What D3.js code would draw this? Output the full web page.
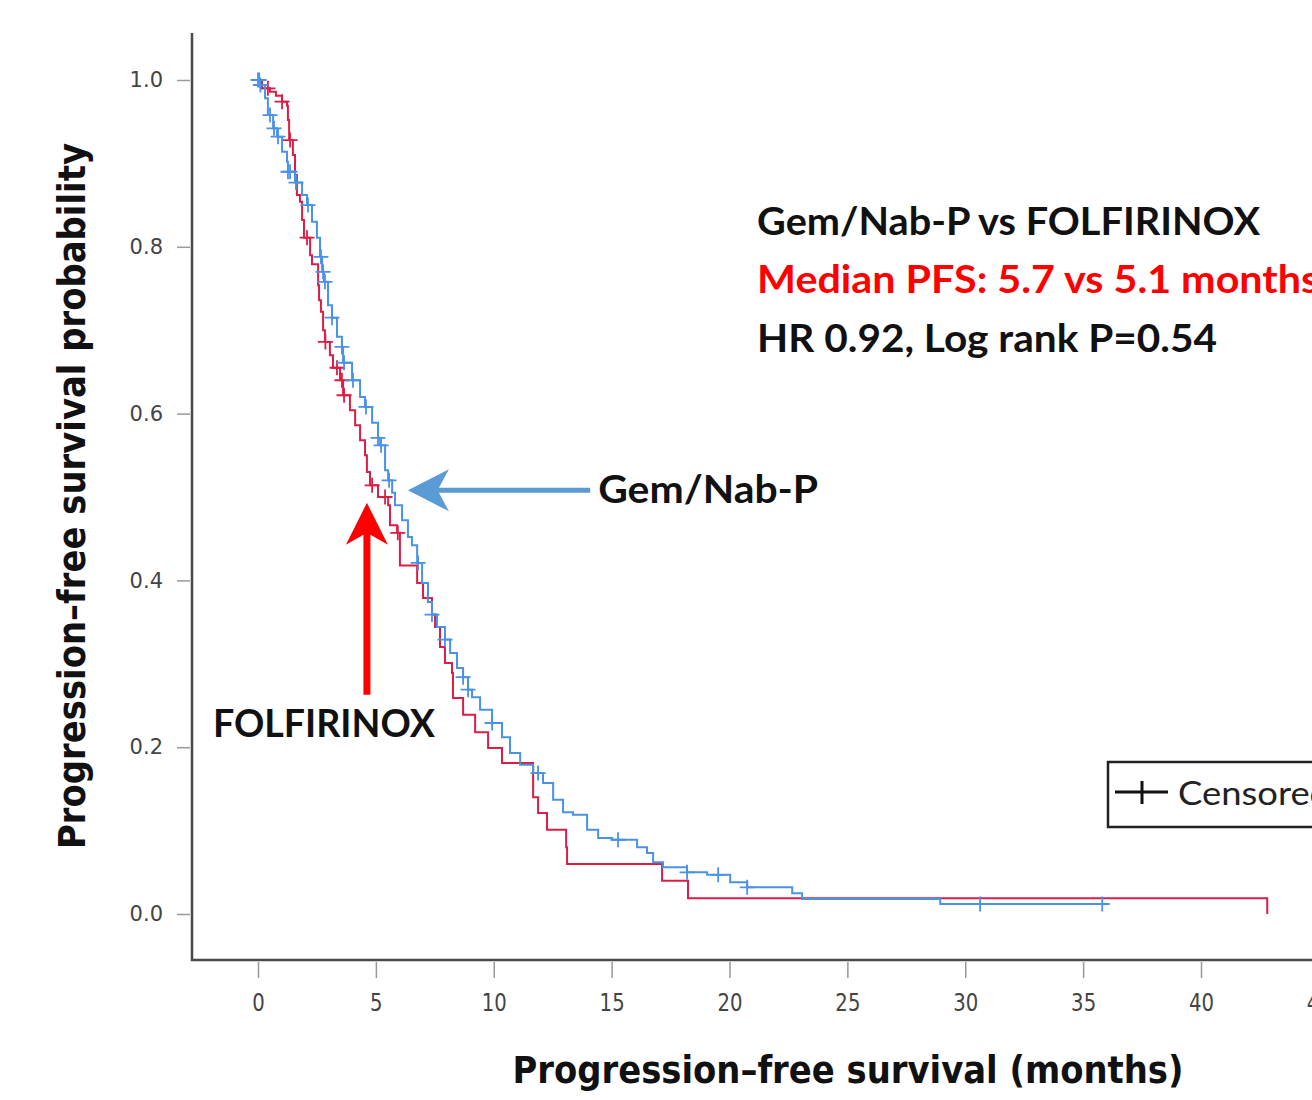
<!DOCTYPE html>
<html>
<head>
<meta charset="utf-8">
<script src="https://cdn.jsdelivr.net/npm/d3@7/dist/d3.min.js"></script>
<style>
  html, body { margin: 0; padding: 0; overflow: hidden; background: #fff; }
</style>
</head>
<body>
<div id="main"></div>
<script>
const xTicks = [0, 5, 10, 15, 20, 25, 30, 35, 40, 45];
const yTicks = [0, 0.2, 0.4, 0.6, 0.8, 1.0];

// FOLFIRINOX (red): step times (months) and survival after each step
const folfTime = [0, 0.17, 0.51, 0.76, 1.02, 1.23, 1.27, 1.32, 1.48, 1.57, 1.65, 1.78, 1.87, 1.95,
    2.21, 2.29, 2.55, 2.59, 2.67, 2.76, 2.84, 3.05, 3.18, 3.48, 3.61, 3.90, 4.12, 4.33, 4.54, 4.62,
    4.75, 5.09, 5.52, 5.60, 5.90, 6.02, 6.75, 7.00, 7.38, 7.51, 7.72, 7.93, 8.23, 8.27, 8.70, 9.21,
    9.76, 10.35, 11.67, 11.88, 12.26, 13.07, 13.11, 17.14, 18.24, 42.81];
const folfSurv = [1.000, 0.990, 0.986, 0.981, 0.974, 0.969, 0.952, 0.928, 0.910, 0.886, 0.862, 0.854, 0.832, 0.811,
    0.790, 0.779, 0.754, 0.736, 0.722, 0.700, 0.686, 0.670, 0.655, 0.640, 0.622, 0.604, 0.586, 0.568, 0.550, 0.530,
    0.514, 0.500, 0.490, 0.466, 0.457, 0.418, 0.397, 0.379, 0.359, 0.344, 0.320, 0.301, 0.289, 0.259, 0.239, 0.218,
    0.199, 0.181, 0.140, 0.121, 0.101, 0.080, 0.060, 0.040, 0.019, 0.000];
const folfCensor = [0.42, 1.02, 1.36, 2.08, 2.86, 3.35, 3.56, 3.65, 4.84, 5.39, 5.93];

// Gem/Nab-P (blue)
const gemTime = [0, 0.08, 0.30, 0.42, 0.64, 0.81, 1.02, 1.23, 1.27, 1.57, 1.87, 2.08, 2.29, 2.50, 2.63,
    2.72, 2.80, 2.97, 3.14, 3.35, 3.56, 3.61, 3.99, 4.33, 4.54, 4.84, 5.09, 5.18, 5.39, 5.52, 5.69, 5.81,
    6.11, 6.36, 6.53, 6.75, 6.96, 7.21, 7.38, 7.59, 7.93, 8.15, 8.44, 8.70, 8.91, 9.08, 9.42, 9.93, 10.35,
    10.69, 11.12, 11.67, 12.09, 12.52, 12.94, 13.36, 13.96, 14.43, 15.02, 16.08, 16.50, 16.76, 17.18,
    18.20, 19.05, 20.03, 20.75, 22.66, 23.08, 28.94];
const gemSurv = [1.000, 0.994, 0.978, 0.958, 0.942, 0.932, 0.914, 0.902, 0.890, 0.877, 0.862, 0.850, 0.830, 0.811, 0.788,
    0.770, 0.758, 0.730, 0.715, 0.692, 0.680, 0.661, 0.640, 0.620, 0.608, 0.589, 0.571, 0.562, 0.532, 0.520, 0.505, 0.490,
    0.472, 0.452, 0.442, 0.421, 0.397, 0.374, 0.359, 0.344, 0.329, 0.313, 0.295, 0.284, 0.269, 0.260, 0.245, 0.229, 0.212,
    0.193, 0.179, 0.169, 0.157, 0.137, 0.122, 0.119, 0.101, 0.091, 0.089, 0.080, 0.073, 0.062, 0.056,
    0.050, 0.047, 0.038, 0.032, 0.025, 0.018, 0.012];
const gemCensor = [0.0, 0.05, 0.10, 0.51, 0.68, 0.85, 1.27, 1.36, 1.61, 2.12, 2.67, 2.76, 2.84, 3.14, 3.56, 3.65,
    4.03, 4.58, 5.09, 5.22, 5.56, 6.79, 7.38, 7.93, 8.70, 8.91, 9.93, 11.88, 15.27, 18.20, 19.52, 20.75, 30.63, 35.81];

class KmChart {
    constructor({ width = 1312, height = 1100 } = {}) {
        this.w = width;
        this.h = height;
        this.svg = null;
        this.x = d3.scaleLinear().domain([0, 40]).range([258, 1201]);
        this.y = d3.scaleLinear().domain([0, 1]).range([914, 80]);
    }

    createSvg(selector) {
        this.svg = d3.select(selector)
            .append("svg")
            .attr("width", this.w)
            .attr("height", this.h)
            .style("display", "block");
    }

    survAt(times, surv, t) {
        const i = Math.max(0, d3.bisectRight(times, t) - 1);
        return surv[i];
    }

    drawCurve(times, surv, censor, color) {
        const pts = times.map((t, i) => [t, surv[i]]);
        const end = d3.max(censor);
        if (end > times[times.length - 1]) pts.push([end, surv[surv.length - 1]]);

        const line = d3.line()
            .x(d => this.x(d[0]))
            .y(d => this.y(d[1]))
            .curve(d3.curveStepAfter);

        this.svg.append("path")
            .datum(pts)
            .attr("d", line)
            .attr("fill", "none")
            .attr("stroke", color)
            .attr("stroke-width", 2);

        this.svg.append("g")
            .selectAll("path")
            .data(censor)
            .join("path")
            .attr("d", t => {
                const cx = this.x(t), cy = this.y(this.survAt(times, surv, t));
                return `M${cx - 7.5},${cy}h15M${cx},${cy - 7.5}v15`;
            })
            .attr("stroke", color)
            .attr("stroke-width", 1.8);
    }

    drawAxes() {
        // Eixo Y
        const gy = this.svg.append("g")
            .attr("transform", "translate(190,0)")
            .call(d3.axisLeft(this.y).tickValues(yTicks).tickFormat(d3.format(".1f")).tickSize(13).tickPadding(14));
        gy.select(".domain").remove();
        gy.selectAll("line").attr("stroke", "#999").attr("stroke-width", 1.5);
        gy.selectAll("text")
            .style("font-family", "'DejaVu Sans', sans-serif")
            .style("font-size", "21px")
            .attr("fill", "#444");

        // Eixo X
        const gx = this.svg.append("g")
            .attr("transform", "translate(0,962)")
            .call(d3.axisBottom(this.x).tickValues(xTicks).tickFormat(d3.format("d")).tickSize(16).tickPadding(16));
        gx.select(".domain").remove();
        gx.selectAll("line").attr("stroke", "#999").attr("stroke-width", 1.5);
        gx.selectAll("text")
            .style("font-family", "'DejaVu Sans', sans-serif")
            .style("font-size", "24px")
            .attr("fill", "#444")
            .attr("transform", "scale(0.82,1)");

        // frame lines
        this.svg.append("path")
            .attr("d", "M192,33V960H1320")
            .attr("fill", "none")
            .attr("stroke", "#4a4a4a")
            .attr("stroke-width", 2.5);

        this.svg.append("text")
            .attr("x", 848)
            .attr("y", 1083)
            .attr("text-anchor", "middle")
            .attr("textLength", 671)
            .attr("lengthAdjust", "spacingAndGlyphs")
            .style("font-family", "'DejaVu Sans', sans-serif")
            .style("font-weight", "bold")
            .style("font-size", "37px")
            .attr("fill", "#111")
            .text("Progression–free survival (months)");

        this.svg.append("text")
            .attr("transform", "translate(85,496) rotate(-90)")
            .attr("text-anchor", "middle")
            .attr("textLength", 706)
            .attr("lengthAdjust", "spacingAndGlyphs")
            .style("font-family", "'DejaVu Sans', sans-serif")
            .style("font-weight", "bold")
            .style("font-size", "37px")
            .attr("fill", "#111")
            .text("Progression–free survival probability");
    }

    drawNotes() {
        const x = this.x, y = this.y;
        const note = (tx, ty, txt, len, color) => this.svg.append("text")
            .attr("x", x(tx))
            .attr("y", y(ty))
            .attr("textLength", len)
            .attr("lengthAdjust", "spacingAndGlyphs")
            .style("font-family", "Lato, 'Open Sans', sans-serif")
            .style("font-weight", "bold")
            .style("font-size", "39px")
            .attr("fill", color)
            .text(txt);

        note(21.17, 0.814, "Gem/Nab-P vs FOLFIRINOX", 503, "#111");
        note(21.17, 0.745, "Median PFS: 5.7 vs 5.1 months", 562, "#ff0000");
        note(21.17, 0.674, "HR 0.92, Log rank P=0.54", 460, "#111");
        note(14.43, 0.493, "Gem/Nab-P", 220, "#111");
        note(-1.91, 0.212, "FOLFIRINOX", 222, "#111");

        // blue arrow (points left)
        const bx = x(6.36), by = y(0.508), btail = x(14.09);
        this.svg.append("path")
            .attr("d", `M${bx},${by}L${bx + 41},${by - 21}L${bx + 31},${by - 2.5}H${btail}V${by + 2.5}H${bx + 31}L${bx + 41},${by + 21}Z`)
            .attr("fill", "#5b9bd5");

        // red arrow (points up)
        const rx = x(4.62), ry = y(0.493), rtail = y(0.263);
        this.svg.append("path")
            .attr("d", `M${rx},${ry}L${rx + 21},${ry + 42}L${rx + 3.5},${ry + 32}V${rtail}H${rx - 3.5}V${ry + 32}L${rx - 21},${ry + 42}Z`)
            .attr("fill", "#ff0000");
    }

    drawLegend() {
        const g = this.svg.append("g");
        g.append("rect")
            .attr("x", 1108).attr("y", 762)
            .attr("width", 260).attr("height", 65)
            .attr("fill", "#fff")
            .attr("stroke", "#222")
            .attr("stroke-width", 2.5);
        g.append("path")
            .attr("d", "M1115,792H1168M1142,781V804")
            .attr("stroke", "#111")
            .attr("stroke-width", 3);
        g.append("text")
            .attr("x", 1178).attr("y", 805)
            .attr("textLength", 152)
            .attr("lengthAdjust", "spacingAndGlyphs")
            .style("font-family", "Lato, 'Open Sans', sans-serif")
            .style("font-size", "32px")
            .attr("fill", "#222")
            .text("Censored");
    }

    run(selector) {
        this.createSvg(selector);
        this.drawAxes();
        this.drawCurve(folfTime, folfSurv, folfCensor, "#dc1e46");
        this.drawCurve(gemTime, gemSurv, gemCensor, "#4a92e6");
        this.drawNotes();
        this.drawLegend();
    }
}

window.onload = () => {
    const chart = new KmChart({ width: 1312, height: 1100 });
    chart.run("#main");
};
</script>
</body>
</html>
